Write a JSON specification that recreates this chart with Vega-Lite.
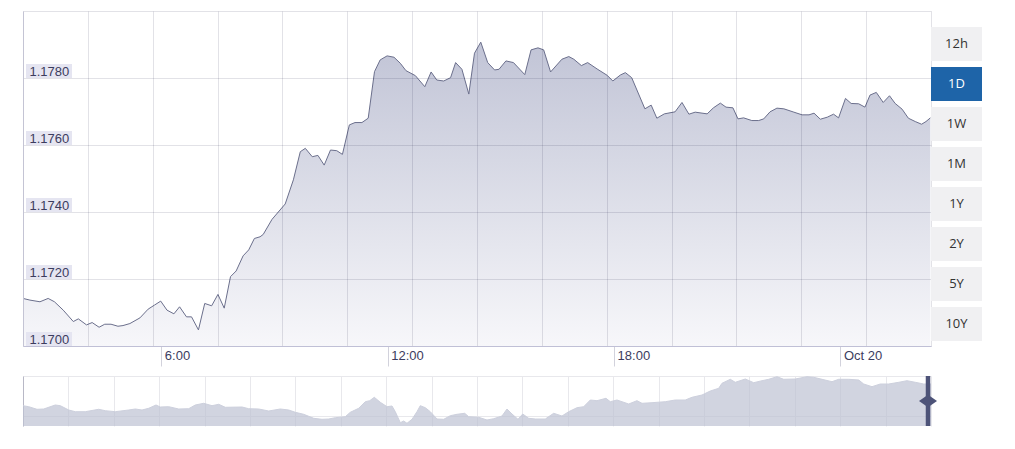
{
  "$schema": "https://vega.github.io/schema/vega-lite/v6.json",
  "background": "white",
  "padding": {"left": 21, "top": 11, "right": 0, "bottom": 0},
  "config": {"view": {"stroke": null}, "font": "Liberation Sans"},
  "datasets": {
    "main": [
      {"t": "2020-10-19T02:20", "v": 1.17142}, {"t": "2020-10-19T02:31", "v": 1.17137}, {"t": "2020-10-19T02:47", "v": 1.17132},
      {"t": "2020-10-19T03:00", "v": 1.17142}, {"t": "2020-10-19T03:10", "v": 1.17132}, {"t": "2020-10-19T03:24", "v": 1.17107},
      {"t": "2020-10-19T03:40", "v": 1.17073}, {"t": "2020-10-19T03:48", "v": 1.17081}, {"t": "2020-10-19T04:01", "v": 1.17063},
      {"t": "2020-10-19T04:10", "v": 1.1707}, {"t": "2020-10-19T04:21", "v": 1.17056}, {"t": "2020-10-19T04:30", "v": 1.17065},
      {"t": "2020-10-19T04:40", "v": 1.17065}, {"t": "2020-10-19T04:51", "v": 1.17059}, {"t": "2020-10-19T04:59", "v": 1.17061},
      {"t": "2020-10-19T05:10", "v": 1.17067}, {"t": "2020-10-19T05:26", "v": 1.17084}, {"t": "2020-10-19T05:39", "v": 1.1711},
      {"t": "2020-10-19T05:49", "v": 1.17122}, {"t": "2020-10-19T05:59", "v": 1.17134}, {"t": "2020-10-19T06:09", "v": 1.17107},
      {"t": "2020-10-19T06:20", "v": 1.17096}, {"t": "2020-10-19T06:29", "v": 1.17117}, {"t": "2020-10-19T06:40", "v": 1.17087},
      {"t": "2020-10-19T06:48", "v": 1.17087}, {"t": "2020-10-19T06:59", "v": 1.17048}, {"t": "2020-10-19T07:09", "v": 1.17127},
      {"t": "2020-10-19T07:20", "v": 1.1712}, {"t": "2020-10-19T07:30", "v": 1.17154}, {"t": "2020-10-19T07:40", "v": 1.17113},
      {"t": "2020-10-19T07:50", "v": 1.17207}, {"t": "2020-10-19T07:59", "v": 1.17224}, {"t": "2020-10-19T08:10", "v": 1.17269},
      {"t": "2020-10-19T08:19", "v": 1.17287}, {"t": "2020-10-19T08:28", "v": 1.17321}, {"t": "2020-10-19T08:37", "v": 1.17326},
      {"t": "2020-10-19T08:42", "v": 1.17333}, {"t": "2020-10-19T08:56", "v": 1.17378}, {"t": "2020-10-19T09:17", "v": 1.17424},
      {"t": "2020-10-19T09:30", "v": 1.17496}, {"t": "2020-10-19T09:41", "v": 1.1758}, {"t": "2020-10-19T09:49", "v": 1.1759},
      {"t": "2020-10-19T10:00", "v": 1.17565}, {"t": "2020-10-19T10:09", "v": 1.17569}, {"t": "2020-10-19T10:19", "v": 1.1754},
      {"t": "2020-10-19T10:29", "v": 1.17585}, {"t": "2020-10-19T10:39", "v": 1.17583}, {"t": "2020-10-19T10:48", "v": 1.17572},
      {"t": "2020-10-19T10:59", "v": 1.1766}, {"t": "2020-10-19T11:08", "v": 1.17667}, {"t": "2020-10-19T11:19", "v": 1.17667},
      {"t": "2020-10-19T11:29", "v": 1.1768}, {"t": "2020-10-19T11:39", "v": 1.17819}, {"t": "2020-10-19T11:48", "v": 1.17854},
      {"t": "2020-10-19T11:59", "v": 1.17866}, {"t": "2020-10-19T12:10", "v": 1.17862}, {"t": "2020-10-19T12:20", "v": 1.17844},
      {"t": "2020-10-19T12:29", "v": 1.17822}, {"t": "2020-10-19T12:44", "v": 1.17807}, {"t": "2020-10-19T12:59", "v": 1.17774},
      {"t": "2020-10-19T13:09", "v": 1.17818}, {"t": "2020-10-19T13:18", "v": 1.17794}, {"t": "2020-10-19T13:29", "v": 1.17791},
      {"t": "2020-10-19T13:40", "v": 1.17801}, {"t": "2020-10-19T13:48", "v": 1.17846}, {"t": "2020-10-19T13:58", "v": 1.17826},
      {"t": "2020-10-19T14:09", "v": 1.17752}, {"t": "2020-10-19T14:18", "v": 1.17874}, {"t": "2020-10-19T14:28", "v": 1.17907},
      {"t": "2020-10-19T14:39", "v": 1.17846}, {"t": "2020-10-19T14:50", "v": 1.17824}, {"t": "2020-10-19T14:57", "v": 1.17826},
      {"t": "2020-10-19T15:08", "v": 1.17851}, {"t": "2020-10-19T15:20", "v": 1.17846}, {"t": "2020-10-19T15:38", "v": 1.1781},
      {"t": "2020-10-19T15:48", "v": 1.17884}, {"t": "2020-10-19T15:59", "v": 1.1789}, {"t": "2020-10-19T16:08", "v": 1.17884},
      {"t": "2020-10-19T16:19", "v": 1.17818}, {"t": "2020-10-19T16:37", "v": 1.17856}, {"t": "2020-10-19T16:48", "v": 1.17864},
      {"t": "2020-10-19T16:56", "v": 1.17856}, {"t": "2020-10-19T17:08", "v": 1.17837}, {"t": "2020-10-19T17:18", "v": 1.17846},
      {"t": "2020-10-19T17:33", "v": 1.17827}, {"t": "2020-10-19T17:49", "v": 1.17808}, {"t": "2020-10-19T17:58", "v": 1.17791},
      {"t": "2020-10-19T18:10", "v": 1.17809}, {"t": "2020-10-19T18:18", "v": 1.17816}, {"t": "2020-10-19T18:28", "v": 1.17801},
      {"t": "2020-10-19T18:49", "v": 1.17708}, {"t": "2020-10-19T18:59", "v": 1.17719}, {"t": "2020-10-19T19:08", "v": 1.1768},
      {"t": "2020-10-19T19:20", "v": 1.17693}, {"t": "2020-10-19T19:37", "v": 1.17699}, {"t": "2020-10-19T19:48", "v": 1.17727},
      {"t": "2020-10-19T19:59", "v": 1.17692}, {"t": "2020-10-19T20:09", "v": 1.17698}, {"t": "2020-10-19T20:28", "v": 1.17693},
      {"t": "2020-10-19T20:38", "v": 1.17711}, {"t": "2020-10-19T20:49", "v": 1.17725}, {"t": "2020-10-19T20:58", "v": 1.17713},
      {"t": "2020-10-19T21:09", "v": 1.17711}, {"t": "2020-10-19T21:17", "v": 1.17678}, {"t": "2020-10-19T21:26", "v": 1.17681},
      {"t": "2020-10-19T21:39", "v": 1.17673}, {"t": "2020-10-19T21:50", "v": 1.17673}, {"t": "2020-10-19T21:58", "v": 1.17678},
      {"t": "2020-10-19T22:08", "v": 1.17699}, {"t": "2020-10-19T22:19", "v": 1.1771}, {"t": "2020-10-19T22:30", "v": 1.17708},
      {"t": "2020-10-19T22:46", "v": 1.17698}, {"t": "2020-10-19T22:59", "v": 1.1769}, {"t": "2020-10-19T23:10", "v": 1.1769},
      {"t": "2020-10-19T23:18", "v": 1.17695}, {"t": "2020-10-19T23:28", "v": 1.17677}, {"t": "2020-10-19T23:39", "v": 1.17683},
      {"t": "2020-10-19T23:49", "v": 1.17692}, {"t": "2020-10-19T23:57", "v": 1.17681}, {"t": "2020-10-20T00:08", "v": 1.17739},
      {"t": "2020-10-20T00:17", "v": 1.17724}, {"t": "2020-10-20T00:29", "v": 1.17723}, {"t": "2020-10-20T00:39", "v": 1.17713},
      {"t": "2020-10-20T00:47", "v": 1.17749}, {"t": "2020-10-20T00:57", "v": 1.17757}, {"t": "2020-10-20T01:08", "v": 1.17727},
      {"t": "2020-10-20T01:18", "v": 1.17747}, {"t": "2020-10-20T01:27", "v": 1.17724}, {"t": "2020-10-20T01:38", "v": 1.17707},
      {"t": "2020-10-20T01:48", "v": 1.1768}, {"t": "2020-10-20T01:59", "v": 1.1767}, {"t": "2020-10-20T02:09", "v": 1.17662},
      {"t": "2020-10-20T02:16", "v": 1.1767}, {"t": "2020-10-20T02:23", "v": 1.17681}
    ],
    "ylab": [{"v": 1.170}, {"v": 1.172}, {"v": 1.174}, {"v": 1.176}, {"v": 1.178}],
    "buttons": [
      {"label": "12h", "active": false}, {"label": "1D", "active": true}, {"label": "1W", "active": false}, {"label": "1M", "active": false},
      {"label": "1Y", "active": false}, {"label": "2Y", "active": false}, {"label": "5Y", "active": false}, {"label": "10Y", "active": false}
    ],
    "nav": [
      {"d": 0, "v": 1.16812}, {"d": 0.126, "v": 1.16772}, {"d": 0.308, "v": 1.16668}, {"d": 0.456, "v": 1.1668}, {"d": 0.711, "v": 1.1684},
      {"d": 0.822, "v": 1.16812}, {"d": 1.007, "v": 1.1664}, {"d": 1.152, "v": 1.16572}, {"d": 1.372, "v": 1.16572}, {"d": 1.667, "v": 1.16668},
      {"d": 1.813, "v": 1.16612}, {"d": 2.033, "v": 1.16572}, {"d": 2.328, "v": 1.1664}, {"d": 2.474, "v": 1.1668}, {"d": 2.621, "v": 1.1664},
      {"d": 2.769, "v": 1.16708}, {"d": 2.93, "v": 1.1684}, {"d": 3.024, "v": 1.1676}, {"d": 3.209, "v": 1.16772}, {"d": 3.43, "v": 1.1668},
      {"d": 3.65, "v": 1.16692}, {"d": 3.795, "v": 1.1684}, {"d": 3.98, "v": 1.16908}, {"d": 4.163, "v": 1.16812}, {"d": 4.311, "v": 1.16868},
      {"d": 4.456, "v": 1.16748}, {"d": 4.824, "v": 1.1676}, {"d": 4.971, "v": 1.16692}, {"d": 5.192, "v": 1.1668}, {"d": 5.412, "v": 1.166},
      {"d": 5.667, "v": 1.1668}, {"d": 5.852, "v": 1.1664}, {"d": 5.998, "v": 1.16548}, {"d": 6.183, "v": 1.16468}, {"d": 6.403, "v": 1.16308},
      {"d": 6.586, "v": 1.16268}, {"d": 6.733, "v": 1.1628}, {"d": 6.879, "v": 1.16332}, {"d": 7.099, "v": 1.16372}, {"d": 7.209, "v": 1.16548},
      {"d": 7.394, "v": 1.16708}, {"d": 7.54, "v": 1.16972}, {"d": 7.637, "v": 1.17012}, {"d": 7.738, "v": 1.17148}, {"d": 7.87, "v": 1.16948},
      {"d": 8.018, "v": 1.16772}, {"d": 8.128, "v": 1.168}, {"d": 8.2, "v": 1.16572}, {"d": 8.311, "v": 1.16132}, {"d": 8.385, "v": 1.162},
      {"d": 8.458, "v": 1.16108}, {"d": 8.568, "v": 1.16268}, {"d": 8.678, "v": 1.16572}, {"d": 8.751, "v": 1.16812}, {"d": 8.861, "v": 1.16732},
      {"d": 8.971, "v": 1.16572}, {"d": 9.119, "v": 1.1628}, {"d": 9.267, "v": 1.16268}, {"d": 9.412, "v": 1.16412}, {"d": 9.559, "v": 1.16468},
      {"d": 9.729, "v": 1.16508}, {"d": 9.817, "v": 1.16372}, {"d": 10.037, "v": 1.16348}, {"d": 10.22, "v": 1.1624}, {"d": 10.368, "v": 1.16292},
      {"d": 10.551, "v": 1.164}, {"d": 10.661, "v": 1.1668}, {"d": 10.771, "v": 1.1648}, {"d": 10.903, "v": 1.16268}, {"d": 11.007, "v": 1.1648},
      {"d": 11.139, "v": 1.16308}, {"d": 11.284, "v": 1.1628}, {"d": 11.504, "v": 1.1628}, {"d": 11.689, "v": 1.16508}, {"d": 11.872, "v": 1.164},
      {"d": 12.02, "v": 1.16572}, {"d": 12.203, "v": 1.16732}, {"d": 12.35, "v": 1.16772}, {"d": 12.496, "v": 1.1704}, {"d": 12.643, "v": 1.17012},
      {"d": 12.841, "v": 1.17108}, {"d": 12.936, "v": 1.16972}, {"d": 13.084, "v": 1.1704}, {"d": 13.341, "v": 1.1688}, {"d": 13.524, "v": 1.17012},
      {"d": 13.634, "v": 1.16908}, {"d": 13.855, "v": 1.16932}, {"d": 14.148, "v": 1.16972}, {"d": 14.368, "v": 1.1704}, {"d": 14.588, "v": 1.1704},
      {"d": 14.736, "v": 1.17148}, {"d": 14.956, "v": 1.1724}, {"d": 15.139, "v": 1.174}, {"d": 15.324, "v": 1.17508}, {"d": 15.396, "v": 1.17708},
      {"d": 15.579, "v": 1.17868}, {"d": 15.689, "v": 1.17748}, {"d": 15.91, "v": 1.1788}, {"d": 16.095, "v": 1.17732}, {"d": 16.278, "v": 1.17812},
      {"d": 16.425, "v": 1.17868}, {"d": 16.608, "v": 1.17972}, {"d": 16.755, "v": 1.17868}, {"d": 17.011, "v": 1.1788}, {"d": 17.269, "v": 1.17972},
      {"d": 17.416, "v": 1.17948}, {"d": 17.599, "v": 1.17868}, {"d": 17.819, "v": 1.17772}, {"d": 17.967, "v": 1.17868}, {"d": 18.187, "v": 1.17868},
      {"d": 18.408, "v": 1.1784}, {"d": 18.518, "v": 1.1768}, {"d": 18.7, "v": 1.17572}, {"d": 18.883, "v": 1.1768}, {"d": 19.068, "v": 1.1768},
      {"d": 19.289, "v": 1.17748}, {"d": 19.471, "v": 1.17812}, {"d": 19.654, "v": 1.17748}, {"d": 19.839, "v": 1.1768}, {"d": 20, "v": 1.1768}
    ]
  },
  "columns": 2,
  "spacing": {"row": 30, "column": 0},
  "bounds": "flush",
  "concat": [
    {
      "width": 908,
      "height": 335,
      "layer": [
        {
          "data": {"name": "main"},
          "mark": {
            "type": "area",
            "color": {"gradient": "linear", "x1": 0, "y1": 0, "x2": 0, "y2": 1,
              "stops": [{"offset": 0, "color": "#c1c4d6"}, {"offset": 1, "color": "#f7f7fa"}]}
          },
          "encoding": {
            "x": {
              "field": "t", "type": "temporal",
              "scale": {"domain": [{"year": 2020, "month": 10, "date": 19, "hours": 2, "minutes": 20}, {"year": 2020, "month": 10, "date": 20, "hours": 2, "minutes": 24}], "nice": false},
              "axis": {
                "orient": "top", "title": null, "labels": false, "ticks": false, "domain": true, "domainColor": "rgba(20,20,60,0.12)", "grid": true,
                "gridColor": "rgba(20,20,60,0.12)", "zindex": 1,
                "values": [
                  {"year": 2020, "month": 10, "date": 19, "hours": 2, "minutes": 20},
                  {"year": 2020, "month": 10, "date": 19, "hours": 4, "minutes": 3, "seconds": 8},
                  {"year": 2020, "month": 10, "date": 19, "hours": 5, "minutes": 46, "seconds": 17},
                  {"year": 2020, "month": 10, "date": 19, "hours": 7, "minutes": 29, "seconds": 26},
                  {"year": 2020, "month": 10, "date": 19, "hours": 9, "minutes": 12, "seconds": 34},
                  {"year": 2020, "month": 10, "date": 19, "hours": 10, "minutes": 55, "seconds": 43},
                  {"year": 2020, "month": 10, "date": 19, "hours": 12, "minutes": 38, "seconds": 52},
                  {"year": 2020, "month": 10, "date": 19, "hours": 14, "minutes": 22},
                  {"year": 2020, "month": 10, "date": 19, "hours": 16, "minutes": 5, "seconds": 8},
                  {"year": 2020, "month": 10, "date": 19, "hours": 17, "minutes": 48, "seconds": 17},
                  {"year": 2020, "month": 10, "date": 19, "hours": 19, "minutes": 31, "seconds": 26},
                  {"year": 2020, "month": 10, "date": 19, "hours": 21, "minutes": 14, "seconds": 34},
                  {"year": 2020, "month": 10, "date": 19, "hours": 22, "minutes": 57, "seconds": 43},
                  {"year": 2020, "month": 10, "date": 20, "hours": 0, "minutes": 40, "seconds": 52},
                  {"year": 2020, "month": 10, "date": 20, "hours": 2, "minutes": 24}
                ]
              }
            },
            "y": {
              "field": "v", "type": "quantitative", "stack": null,
              "scale": {"domain": [1.17, 1.18], "zero": false, "nice": false},
              "axis": {
                "title": null, "values": [1.170, 1.172, 1.174, 1.176, 1.178],
                "format": ".4f",
                "labelAlign": "left", "labelBaseline": "alphabetic", "labelPadding": -6, "labelOffset": -3,
                "ticks": false, "domain": true, "domainColor": "#c4c4d4", "grid": true, "gridColor": "rgba(20,20,60,0.12)",
                "labelColor": "#3c3c5e", "labelFontSize": 13, "labelFont": "Liberation Sans", "labelFlush": false, "labelOverlap": false,
                "zindex": 1
              }
            }
          }
        },
        {
          "data": {"name": "main"},
          "mark": {"type": "line", "color": "#6b6f8c", "strokeWidth": 1},
          "encoding": {
            "x": {
              "field": "t", "type": "temporal",
              "scale": {"domain": [{"year": 2020, "month": 10, "date": 19, "hours": 2, "minutes": 20}, {"year": 2020, "month": 10, "date": 20, "hours": 2, "minutes": 24}], "nice": false},
              "axis": {
                "orient": "bottom", "title": null, "grid": false,
                "values": [
                  {"year": 2020, "month": 10, "date": 19, "hours": 6},
                  {"year": 2020, "month": 10, "date": 19, "hours": 12},
                  {"year": 2020, "month": 10, "date": 19, "hours": 18},
                  {"year": 2020, "month": 10, "date": 20, "hours": 0}
                ],
                "labelExpr": "hours(datum.value) == 0 ? timeFormat(datum.value, '%b %-d') : timeFormat(datum.value, '%-H:%M')",
                "labelAlign": "left", "labelBaseline": "top", "labelOffset": 3, "labelPadding": -17,
                "tickSize": 20, "tickColor": "#d2d2dc", "domainColor": "#c0c0d6",
                "labelColor": "#3c3c5e", "labelFontSize": 13, "labelFont": "Liberation Sans", "labelFlush": false, "labelOverlap": false,
                "zindex": 1
              }
            },
            "y": {"field": "v", "type": "quantitative", "stack": null, "scale": {"domain": [1.17, 1.18], "zero": false, "nice": false}}
          }
        },
        {
          "data": {"name": "ylab"},
          "mark": {"type": "point", "shape": "M0,-2L6.57,-2L6.57,0L0,0Z", "size": 196, "filled": true, "opacity": 1, "color": "#e5e5f1", "strokeWidth": 0, "xOffset": 3},
          "encoding": {
            "x": {"datum": {"expr": "datetime(2020, 9, 19, 2, 20)"}, "type": "temporal", "axis": null},
            "y": {"field": "v", "type": "quantitative"}
          }
        }
      ],
      "resolve": {"axis": {"x": "independent"}}
    },
    {
      "width": 51,
      "height": 335,
      "data": {"name": "buttons"},
      "encoding": {
        "y": {"field": "label", "type": "nominal", "sort": null,
          "scale": {"range": [16, 330], "paddingInner": 0.15, "paddingOuter": 0}, "axis": null}
      },
      "layer": [
        {
          "mark": {"type": "bar"},
          "encoding": {
            "color": {"condition": {"test": "datum.active", "value": "#1e64a8"}, "value": "#f0f0f2"}
          }
        },
        {
          "mark": {"type": "text", "font": "Open Sans", "fontSize": 13, "baseline": "middle", "align": "center"},
          "encoding": {
            "text": {"field": "label"},
            "color": {"condition": {"test": "datum.active", "value": "#ffffff"}, "value": "#333333"}
          }
        }
      ]
    },
    {
      "width": 908,
      "height": 50,
      "layer": [
        {
          "data": {"name": "nav"},
          "mark": {"type": "area", "color": "#bec2d3", "line": {"color": "#cdd0dd", "strokeWidth": 1}},
          "encoding": {
            "x": {"field": "d", "type": "quantitative", "scale": {"domain": [0, 20], "nice": false, "zero": false},
              "axis": {"title": null, "grid": true, "values": [0,1,2,3,4,5,6,7,8,9,10,11,12,13,14,15,16,17,18,19,20],
                "labels": false, "ticks": false, "domain": false, "gridColor": "#e8e8ec"}},
            "y": {"field": "v", "type": "quantitative", "stack": null, "scale": {"domain": [1.16, 1.18], "nice": false, "zero": false},
              "axis": {"title": null, "grid": true, "values": [1.164, 1.168, 1.172, 1.176, 1.18],
                "labels": false, "ticks": false, "domain": true, "domainColor": "#b8b8c6", "gridColor": "#e8e8ec"}}
          }
        },
        {
          "data": {"values": [{}]},
          "mark": {"type": "rule", "color": "#4d5378", "strokeWidth": 4.5, "xOffset": -3},
          "encoding": {"x": {"datum": 20, "type": "quantitative"}}
        },
        {
          "data": {"values": [{}]},
          "mark": {"type": "point", "shape": "M-1,0L0,-0.7L1,0L0,0.7Z", "size": 324, "filled": true, "color": "#4d5378", "opacity": 1, "xOffset": -3},
          "encoding": {"x": {"datum": 20, "type": "quantitative"}, "y": {"datum": 1.17, "type": "quantitative"}}
        }
      ]
    }
  ]
}
